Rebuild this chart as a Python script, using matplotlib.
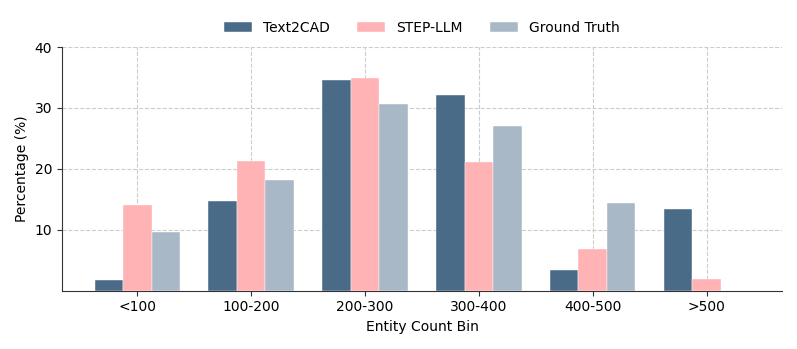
import numpy as np
from matplotlib import pyplot as plt

bins = ["<100", "100-200", "200-300", "300-400", "400-500", ">500"]
text2cad = [1.7, 14.8, 34.6, 32.2, 3.4, 13.4]
step_llm = [14.0, 21.3, 34.9, 21.1, 6.9, 2.0]
ground_truth = [9.6, 18.1, 30.7, 27.1, 14.4, 0.0]

fig, ax = plt.subplots(figsize=(7.97, 3.49), dpi=100)
x = np.arange(len(bins))
w = 0.25
ax.bar(x - w, text2cad, w, color="#4a6b88", edgecolor="white", linewidth=0.3, label="Text2CAD", zorder=3)
ax.bar(x, step_llm, w, color="#ffb3b5", edgecolor="white", linewidth=0.3, label="STEP-LLM", zorder=3)
ax.bar(x + w, ground_truth, w, color="#a9b8c6", edgecolor="white", linewidth=0.3, label="Ground Truth", zorder=3)

ax.set_xticks(x)
ax.set_xticklabels(bins)
ax.set_ylim(0, 40)
ax.set_yticks([10, 20, 30, 40])
ax.set_xlabel("Entity Count Bin")
ax.set_ylabel("Percentage (%)")
ax.grid(True, linestyle="--", color="#cccccc", linewidth=0.8, zorder=0)
ax.spines["top"].set_visible(False)
ax.spines["right"].set_visible(False)
for s in ["left", "bottom"]:
    ax.spines[s].set_color("#333333")
ax.tick_params(colors="#333333", labelcolor="black")
ax.legend(loc="lower center", bbox_to_anchor=(0.5, 1.0), ncol=3, frameon=False)

plt.tight_layout()
plt.savefig("out.png")
